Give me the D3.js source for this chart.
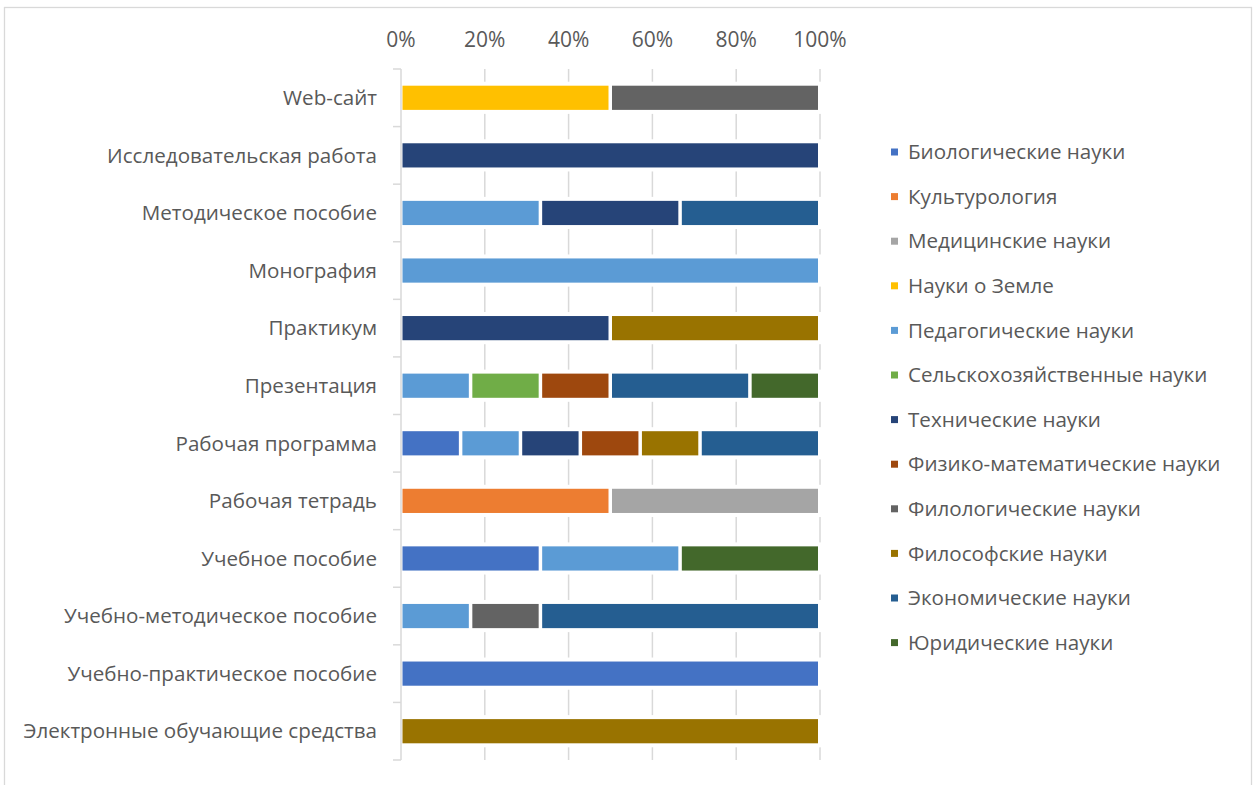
<!DOCTYPE html>
<html><head><meta charset="utf-8">
<script src="https://cdn.jsdelivr.net/npm/d3@7"></script>
<style>body{margin:0;background:#fff;}svg{display:block;font-family:"Open Sans",sans-serif;}</style>
</head><body>
<svg id="c" width="1259" height="785"></svg>
<script>
const categories = ["Web-сайт","Исследовательская работа","Методическое пособие","Монография","Практикум","Презентация","Рабочая программа","Рабочая тетрадь","Учебное пособие","Учебно-методическое пособие","Учебно-практическое пособие","Электронные обучающие средства"];
const seriesNames = ["Биологические науки","Культурология","Медицинские науки","Науки о Земле","Педагогические науки","Сельскохозяйственные науки","Технические науки","Физико-математические науки","Филологические науки","Философские науки","Экономические науки","Юридические науки"];
const seriesColors = ["#4472C4","#ED7D31","#A5A5A5","#FFC000","#5B9BD5","#70AD47","#264478","#9E480E","#636363","#997300","#255E91","#43682B"];
// counts per category (same order as categories)
const biol   = [0,0,0,0,0,0,1,0,1,0,1,0];
const kult   = [0,0,0,0,0,0,0,1,0,0,0,0];
const med    = [0,0,0,0,0,0,0,1,0,0,0,0];
const zemlya = [1,0,0,0,0,0,0,0,0,0,0,0];
const ped    = [0,0,1,1,0,1,1,0,1,1,0,0];
const selsk  = [0,0,0,0,0,1,0,0,0,0,0,0];
const tekh   = [0,1,1,0,1,0,1,0,0,0,0,0];
const fizmat = [0,0,0,0,0,1,1,0,0,0,0,0];
const filol  = [1,0,0,0,0,0,0,0,0,1,0,0];
const filos  = [0,0,0,0,1,0,1,0,0,0,0,1];
const ekon   = [0,0,1,0,0,2,2,0,0,4,0,0];
const yurid  = [0,0,0,0,0,1,0,0,1,0,0,0];
const tickLabels = ["0%","20%","40%","60%","80%","100%"];

const seriesValues = [biol,kult,med,zemlya,ped,selsk,tekh,fizmat,filol,filos,ekon,yurid];
const rows = categories.map((c,i)=>{const o={cat:c};seriesNames.forEach((s,j)=>o[s]=seriesValues[j][i]);return o;});
const stack = d3.stack().keys(seriesNames).offset(d3.stackOffsetExpand)(rows);

const svg = d3.select("#c");
const textColor = "#595959", gridColor = "#d9d9d9";
svg.append("rect").attr("x",4.5).attr("y",7.5).attr("width",1247).attr("height",800).attr("fill","#fff").attr("stroke",gridColor).attr("stroke-width",1.3);

const x = d3.scaleLinear().domain([0,1]).range([401,820]);
const y = d3.scaleBand().domain(categories).range([69,760]).paddingInner(0.58).paddingOuter(0.29);

// gridlines
const ticks = [0,0.2,0.4,0.6,0.8,1];
svg.append("g").selectAll("line").data(ticks.slice(1)).join("line")
  .attr("x1",d=>x(d)).attr("x2",d=>x(d)).attr("y1",69).attr("y2",760)
  .attr("stroke",gridColor).attr("stroke-width",1.5);
// white backdrop breaks gridlines around bars
svg.append("g").selectAll("rect").data(categories).join("rect")
  .attr("x",x(0)+1).attr("width",x(1)-x(0)+3)
  .attr("y",d=>y(d)-4).attr("height",y.bandwidth()+8).attr("fill","#fff");

// y axis line and ticks
const step = y.step();
svg.append("line").attr("x1",x(0)).attr("x2",x(0)).attr("y1",69).attr("y2",760).attr("stroke",gridColor).attr("stroke-width",1.5);
svg.append("g").selectAll("line").data(d3.range(categories.length+1)).join("line")
  .attr("x1",393).attr("x2",x(0)).attr("y1",i=>69+i*step).attr("y2",i=>69+i*step)
  .attr("stroke",gridColor).attr("stroke-width",1.5);

// x tick labels
svg.append("g").selectAll("text").data(ticks).join("text")
  .attr("x",d=>x(d)).attr("y",47).attr("text-anchor","middle")
  .attr("fill",textColor).style("font-size","21px").text((d,i)=>tickLabels[i]);

// category labels
svg.append("g").selectAll("text").data(categories).join("text")
  .attr("x",377).attr("y",d=>y(d)+y.bandwidth()/2).attr("dy","0.35em").attr("text-anchor","end")
  .attr("fill",textColor).style("font-size","20.6px").text(d=>d);

// bars
svg.append("g").selectAll("g").data(stack).join("g")
  .attr("fill",(d,i)=>seriesColors[i])
  .selectAll("rect").data(d=>d.filter(p=>p[1]-p[0]>0)).join("rect")
  .attr("x",p=>x(p[0])+1.5).attr("width",p=>x(p[1])-x(p[0])-3.5)
  .attr("y",p=>y(p.data.cat)).attr("height",y.bandwidth());

// legend
const lg = svg.append("g");
seriesNames.forEach((s,i)=>{
  const cy = 152 + i*44.6;
  lg.append("rect").attr("x",891).attr("y",cy-3.5).attr("width",7).attr("height",7).attr("fill",seriesColors[i]);
  lg.append("text").attr("x",908).attr("y",cy).attr("dy","0.35em").attr("fill",textColor).style("font-size","20.6px").text(s);
});
</script>
</body></html>
